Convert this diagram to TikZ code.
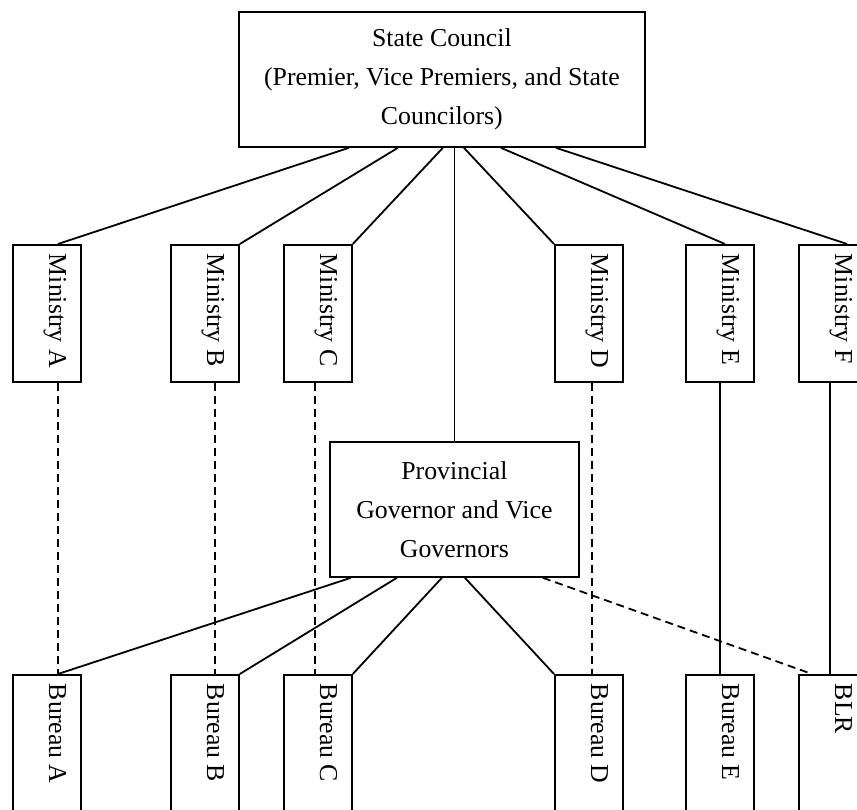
\documentclass[tikz,border=0pt]{standalone}
\usepackage{fontspec}
\setmainfont{Liberation Serif}
\begin{document}
\begin{tikzpicture}[x=1pt,y=-1pt,
  line width=1.8pt,
  every node/.style={font=\fontsize{25.8pt}{39pt}\selectfont},
  box/.style={draw, rectangle, inner sep=0pt, anchor=north west},
  tallbox/.style={box, minimum width=68pt, minimum height=137pt},
  lowbox/.style={box, minimum width=68pt, minimum height=160pt},
  vlabel/.style={draw=none, inner sep=0pt, anchor=base west, rotate=-90},
  link/.style={line width=1.8pt},
  dotlink/.style={line width=1.8pt, dash pattern=on 8pt off 5pt}]
\useasboundingbox (0,0) rectangle (857,810);
\fill[white] (0,0) rectangle (857,810);
\clip (0,0) rectangle (857,810);

% top level
\node[box, minimum width=406pt, minimum height=135pt, align=center] (sc) at (238,11)
  {State Council\\(Premier, Vice Premiers, and State\\Councilors)};

% ministries
\node[tallbox] (mA) at (12,244) {};
\node[tallbox] (mB) at (170,244) {};
\node[tallbox] (mC) at (283,244) {};
\node[tallbox] (mD) at (554,244) {};
\node[tallbox] (mE) at (685,244) {};
\node[tallbox] (mF) at (798,244) {};
\foreach \m/\t in {mA/A,mB/B,mC/C,mD/D,mE/E,mF/F}
  \node[vlabel] (\m t) at ([xshift=37pt,yshift=-9pt]\m.north west) {Ministry \t};

% provincial government
\node[box, minimum width=249pt, minimum height=135pt, align=center] (pv) at (329,441)
  {Provincial\\Governor and Vice\\Governors};

% bureaus
\node[lowbox] (bA) at (12,674) {};
\node[lowbox] (bB) at (170,674) {};
\node[lowbox] (bC) at (283,674) {};
\node[lowbox] (bD) at (554,674) {};
\node[lowbox] (bE) at (685,674) {};
\node[lowbox] (bF) at (798,674) {};
\foreach \b/\t in {bA/Bureau A,bB/Bureau B,bC/Bureau C,bD/Bureau D,bE/Bureau E,bF/BLR}
  \node[vlabel] (\b t) at ([xshift=37pt,yshift=-9pt]\b.north west) {\t};

% State Council to ministries and province
\draw[link] ([xshift=-93pt]sc.south) -- ([xshift=46pt]mA.north west);
\draw[link] ([xshift=-44pt]sc.south) -- (mB.north east);
\draw[link] ([xshift=1pt]sc.south) -- (mC.north east);
\draw[link] (sc.south -| pv.north) -- (pv.north);
\draw[link] ([xshift=22pt]sc.south) -- (mD.north west);
\draw[link] ([xshift=59pt]sc.south) -- ([xshift=40pt]mE.north west);
\draw[link] ([xshift=114pt]sc.south) -- ([xshift=49pt]mF.north west);

% province to bureaus
\draw[link] ([xshift=-103.5pt]pv.south) -- ([xshift=46pt]bA.north west);
\draw[link] ([xshift=-57.5pt]pv.south) -- (bB.north east);
\draw[link] ([xshift=-12.5pt]pv.south) -- (bC.north east);
\draw[link] ([xshift=10.5pt]pv.south) -- (bD.north west);
\draw[dotlink] ([xshift=88.5pt]pv.south) -- ([xshift=14pt]bF.north west);

% ministries to bureaus
\draw[dotlink] ([xshift=46pt]mA.south west) -- ([xshift=46pt]bA.north west);
\draw[dotlink] ([xshift=45pt]mB.south west) -- ([xshift=45pt]bB.north west);
\draw[dotlink] ([xshift=32pt]mC.south west) -- ([xshift=32pt]bC.north west);
\draw[dotlink] ([xshift=38pt]mD.south west) -- ([xshift=38pt]bD.north west);
\draw[link] ([xshift=35pt]mE.south west) -- ([xshift=35pt]bE.north west);
\draw[link] ([xshift=32pt]mF.south west) -- ([xshift=32pt]bF.north west);
\end{tikzpicture}
\end{document}
